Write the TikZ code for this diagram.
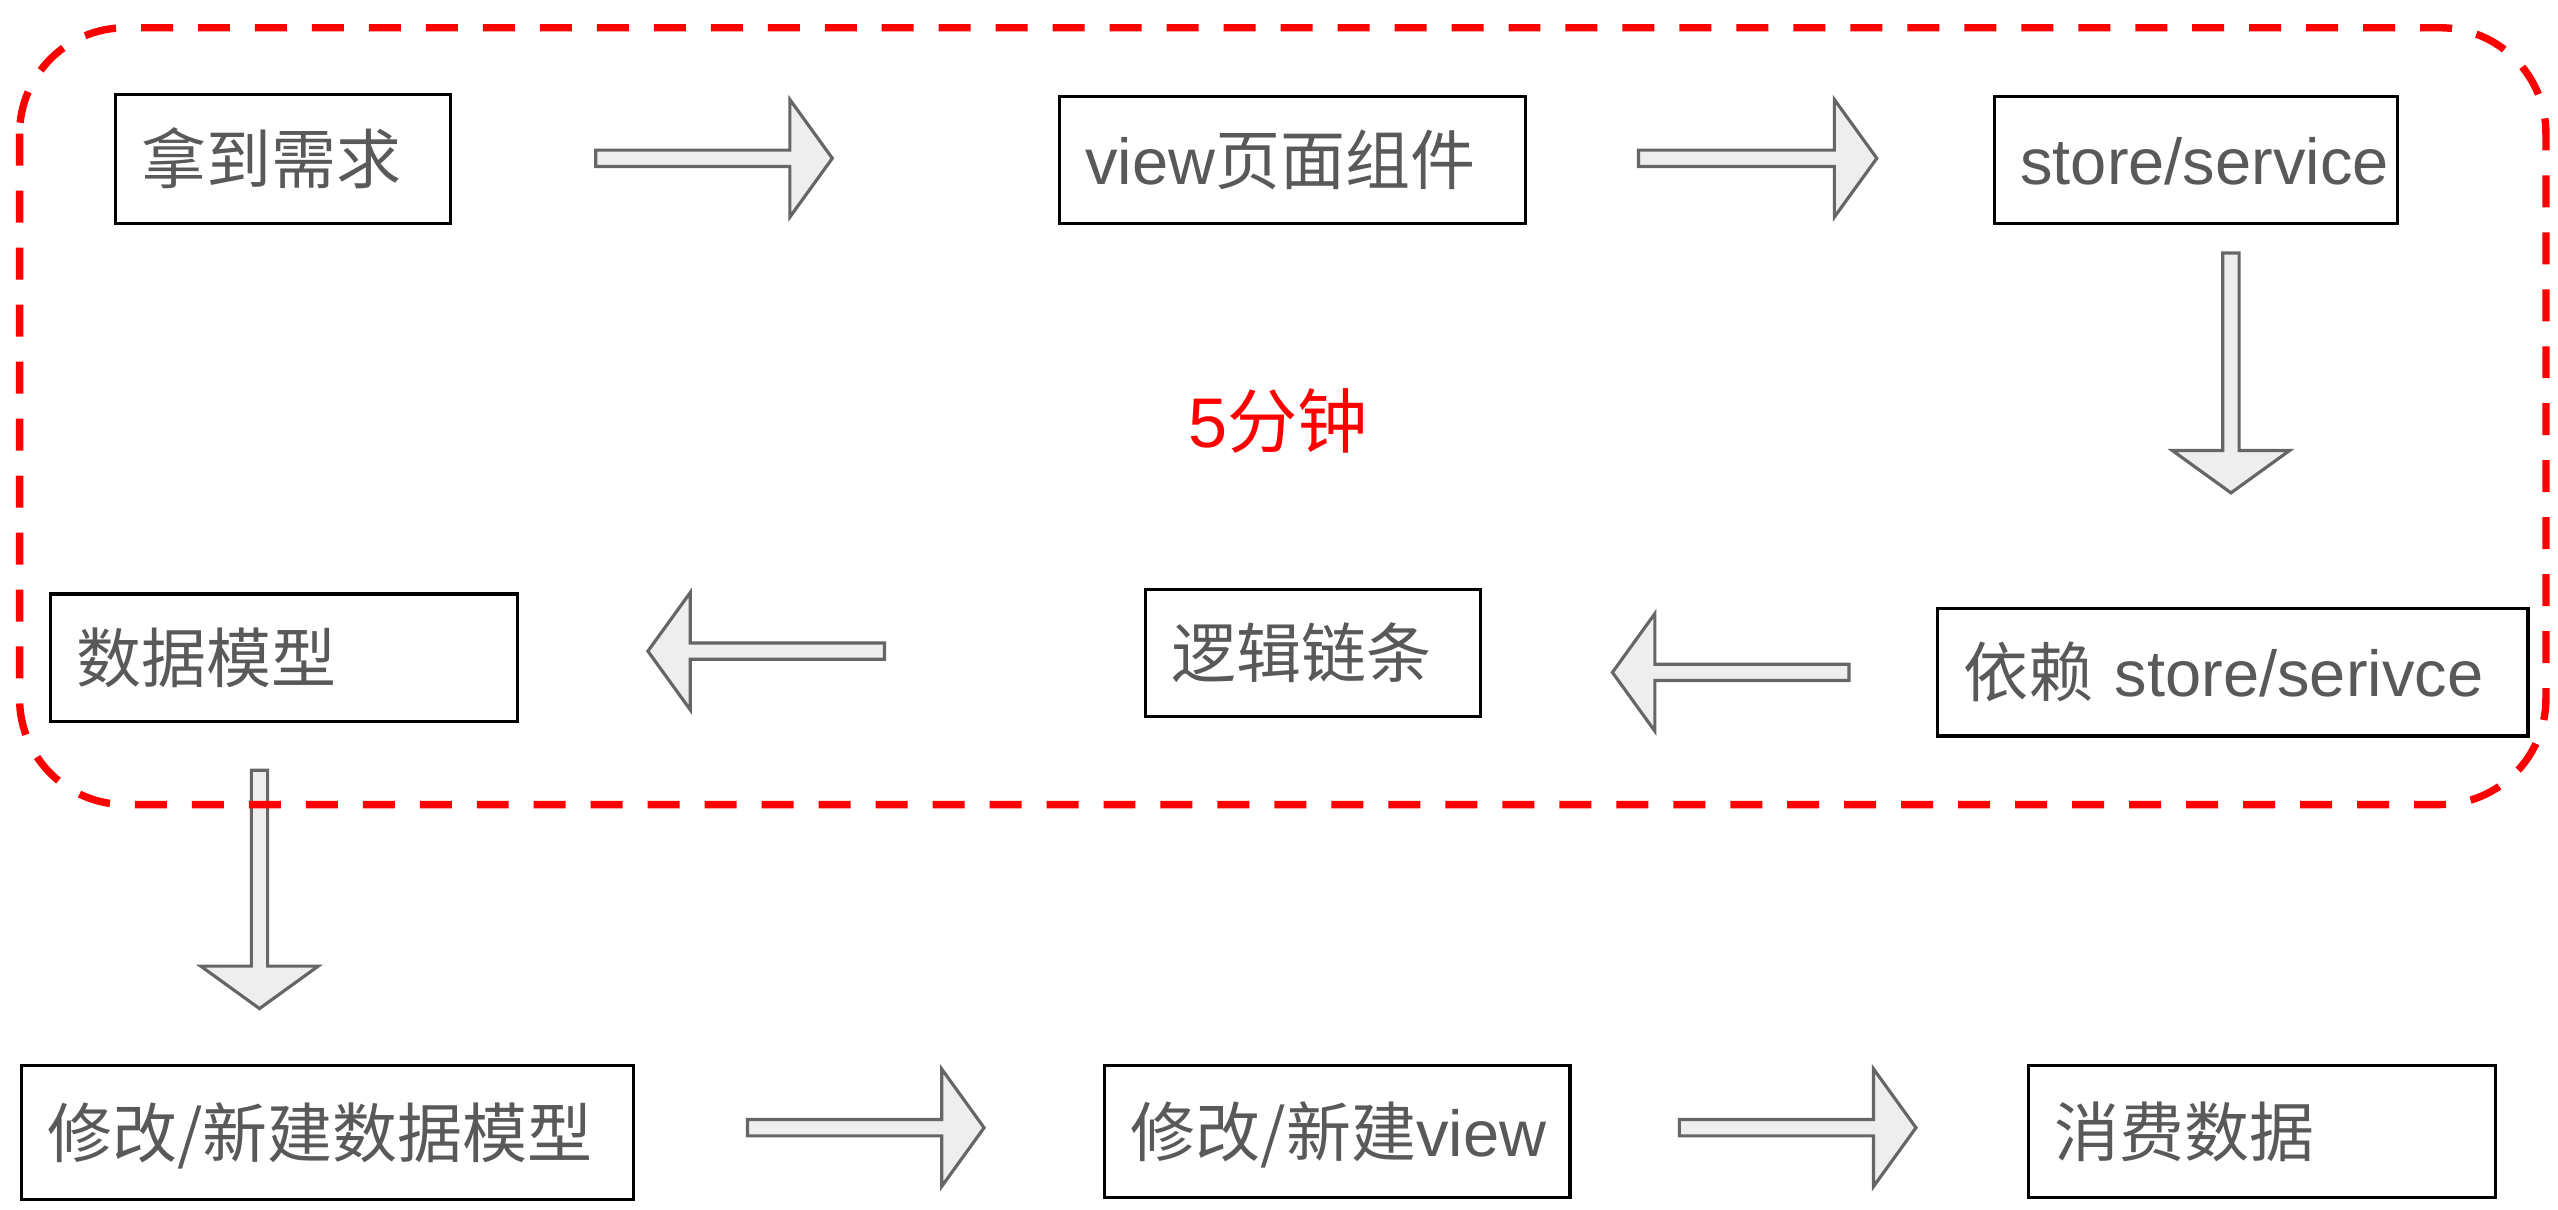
\documentclass[tikz,border=0pt]{standalone}
\usepackage{fontspec}
\setmainfont{Liberation Sans}
\newfontfamily\cjk{Noto Sans CJK SC}
\usetikzlibrary{calc}
\newlength\px
\setlength\px{0.01632cm}
\definecolor{txtgray}{HTML}{595959}
\definecolor{arrgray}{HTML}{666666}
\definecolor{arrfill}{HTML}{EEEEEE}

\newcommand{\blockarrow}[2]{%
    \path ($(#2)!0.4243cm!(#1)$) coordinate (ab);
    \draw[blk] ($(#1)!0.0816cm!90:(#2)$) -- ($(ab)!0.0816cm!90:(#2)$)
        -- ($(ab)!0.5875cm!90:(#2)$) -- (#2) -- ($(ab)!0.5875cm!-90:(#2)$)
        -- ($(ab)!0.0816cm!-90:(#2)$) -- ($(#1)!0.0816cm!-90:(#2)$) -- cycle;
}

\begin{document}
\begin{tikzpicture}[x=0.01632cm, y=-0.01632cm,
    box/.style={draw, line width=0.9pt, anchor=north west, inner xsep=16\px, inner ysep=0pt,
        align=left, text=txtgray, font=\fontsize{18.5}{22}\selectfont, text height=15.5pt, text depth=1.5pt},
    blk/.style={draw=arrgray, fill=arrfill, line width=0.9pt, line join=miter}]
    \useasboundingbox (0,0) rectangle (1567.4,741.4);

    \node[box, minimum height=79\px, text width=173\px] (need) at (70,57) {{\cjk 拿到需求}};
    \node[box, minimum height=78\px, text width=254\px] (view) at (648,58) {view{\cjk 页面组件}};
    \node[box, minimum height=78\px, text width=215\px] (store) at (1221,58) {store/service};
    \node[box, minimum height=78\px, text width=330\px] (dep) at (1186,372) {{\cjk 依赖} store/serivce};
    \node[box, minimum height=78\px, text width=173\px] (logic) at (701,360) {{\cjk 逻辑链条}};
    \node[box, minimum height=78\px, text width=254\px] (model) at (30,363) {{\cjk 数据模型}};
    \node[box, minimum height=82\px, text width=343\px] (newmodel) at (12,652) {{\cjk 修改/新建数据模型}};
    \node[box, minimum height=81\px, text width=253\px] (newview) at (676,652) {{\cjk 修改/新建}view};
    \node[box, minimum height=81\px, text width=254\px] (consume) at (1242,652) {{\cjk 消费数据}};

    \node[text=red, font=\fontsize{20}{24}\selectfont] (time) at (783,258) {5{\cjk 分钟}};

    \coordinate (a1s) at (365,97);   \coordinate (a1e) at (510,97);
    \coordinate (a2s) at (1004,97);  \coordinate (a2e) at (1150,97);
    \coordinate (a3s) at (1367,155); \coordinate (a3e) at (1367,302);
    \coordinate (a4s) at (1133,412); \coordinate (a4e) at (988,412);
    \coordinate (a5s) at (542,399);  \coordinate (a5e) at (397,399);
    \coordinate (a6s) at (159,472);  \coordinate (a6e) at (159,618);
    \coordinate (a7s) at (458,691);  \coordinate (a7e) at (603,691);
    \coordinate (a8s) at (1029,691); \coordinate (a8e) at (1174,691);
    \foreach \s/\e in {a1s/a1e, a2s/a2e, a3s/a3e, a4s/a4e, a5s/a5e, a6s/a6e, a7s/a7e, a8s/a8e}
        \blockarrow{\s}{\e};

    \draw[red, line width=2.1pt, dash pattern=on 0.32cm off 0.25cm, rounded corners=1.06cm]
        (12,17) rectangle (1560,493);
\end{tikzpicture}
\end{document}
